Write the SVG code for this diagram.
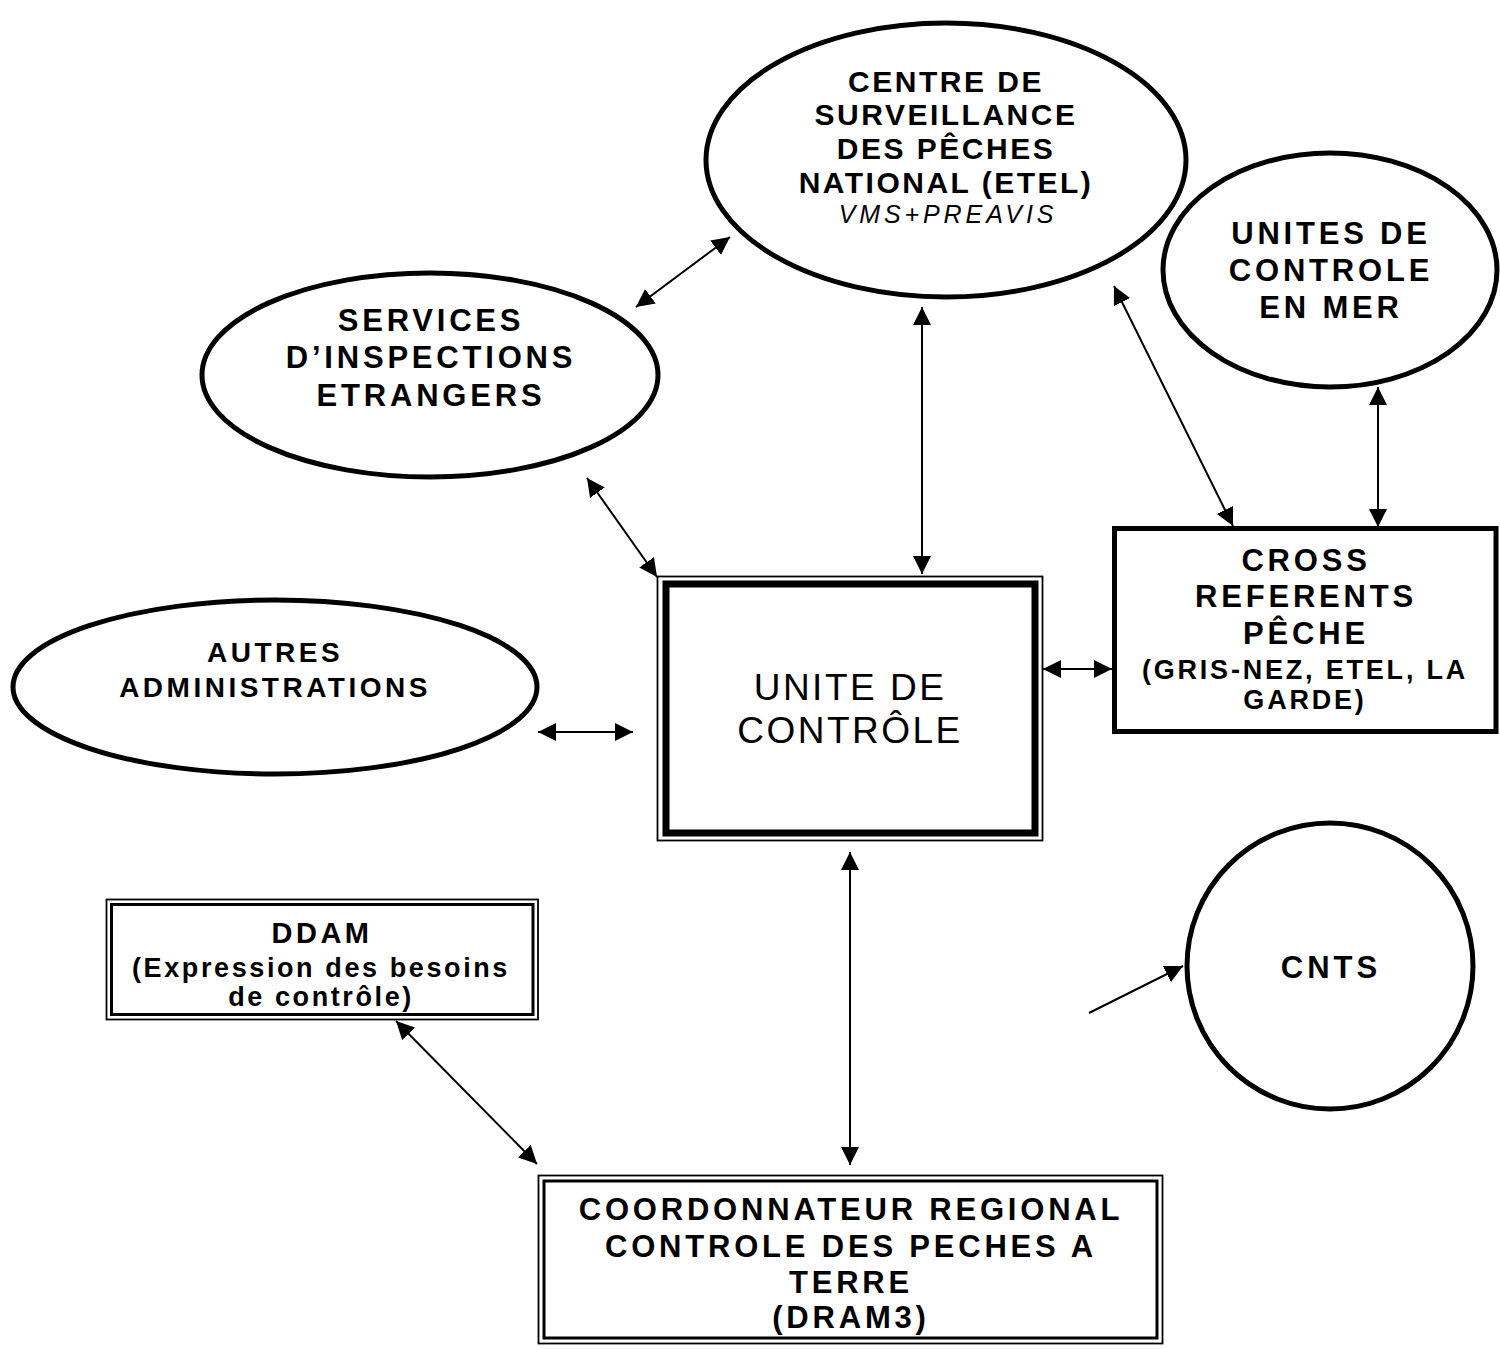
<svg xmlns="http://www.w3.org/2000/svg" width="1500" height="1349" viewBox="0 0 1500 1349">
<style>
text{font-family:"Liberation Sans",Arial,sans-serif;fill:#000;text-anchor:middle}
.b{font-weight:bold;font-size:31px;letter-spacing:3.8px}
.t{font-weight:bold;font-size:30px;letter-spacing:2.5px}
.s{font-weight:bold;font-size:27px;letter-spacing:2.8px}
.i{font-style:italic;font-size:25px;letter-spacing:3.9px}
.u{font-size:37px;letter-spacing:2.5px}
.shape{fill:#fff;stroke:#000;stroke-width:5}
.thin{fill:none;stroke:#000;stroke-width:1.8}
.thick{fill:none;stroke:#000;stroke-width:3}
.conn line{stroke:#000;stroke-width:2}
</style>
<defs>
<marker id="ah" viewBox="0 0 18 18" refX="18" refY="9" markerWidth="18" markerHeight="18" markerUnits="userSpaceOnUse" orient="auto-start-reverse">
<path d="M0,0 L18,9 L0,18 z" fill="#000"/>
</marker>
</defs>
<rect width="1500" height="1349" fill="#fff"/>

<g id="centre-surveillance">
<ellipse class="shape" cx="946" cy="160" rx="240" ry="137"/>
<text class="t" x="946" y="92">CENTRE DE</text>
<text class="t" x="946" y="125">SURVEILLANCE</text>
<text class="t" x="946" y="159">DES PÊCHES</text>
<text class="t" x="946" y="193">NATIONAL (ETEL)</text>
<text class="i" x="948" y="223">VMS+PREAVIS</text>
</g>

<g id="unites-mer">
<ellipse class="shape" cx="1330" cy="270" rx="167" ry="117"/>
<text class="b" x="1331" y="244">UNITES DE</text>
<text class="b" x="1331" y="281">CONTROLE</text>
<text class="b" x="1331" y="318">EN MER</text>
</g>

<g id="services-inspections">
<ellipse class="shape" cx="430" cy="375" rx="228" ry="102"/>
<text class="b" x="431" y="331">SERVICES</text>
<text class="b" x="431" y="368">D’INSPECTIONS</text>
<text class="b" x="431" y="406">ETRANGERS</text>
</g>

<g id="autres-administrations">
<ellipse class="shape" cx="275" cy="687" rx="262" ry="87"/>
<text class="b" x="275" y="662" style="font-size:28px;letter-spacing:3.5px">AUTRES</text>
<text class="b" x="275" y="697" style="font-size:28px;letter-spacing:3.5px">ADMINISTRATIONS</text>
</g>

<g id="unite-controle">
<rect class="thin" x="657.5" y="576.5" width="385" height="264" fill="#fff"/>
<rect x="666" y="584" width="369" height="249" fill="#fff" stroke="#000" stroke-width="7"/>
<text class="u" x="850" y="700">UNITE DE</text>
<text class="u" x="850" y="743">CONTRÔLE</text>
</g>

<g id="cross">
<rect class="shape" x="1114.5" y="528.5" width="381.5" height="203"/>
<text class="b" x="1306" y="571">CROSS</text>
<text class="b" x="1306" y="607">REFERENTS</text>
<text class="b" x="1306" y="644">PÊCHE</text>
<text class="s" x="1305" y="679">(GRIS-NEZ, ETEL, LA</text>
<text class="s" x="1305" y="709">GARDE)</text>
</g>

<g id="cnts">
<circle class="shape" cx="1330" cy="966" r="143"/>
<text class="b" x="1331" y="978" style="letter-spacing:4px">CNTS</text>
</g>

<g id="ddam">
<rect class="thin" x="106.5" y="899.5" width="431.5" height="120" fill="#fff"/>
<rect class="thick" x="111.5" y="904.5" width="421.5" height="110"/>
<text class="b" x="322" y="943" style="font-size:29px;letter-spacing:3.5px">DDAM</text>
<text class="s" x="321" y="977" style="letter-spacing:2.6px">(Expression des besoins</text>
<text class="s" x="321" y="1006" style="letter-spacing:2.6px">de contrôle)</text>
</g>

<g id="coordonnateur">
<rect class="thin" x="538.5" y="1175.5" width="624" height="168" fill="#fff"/>
<rect class="thick" x="544" y="1181" width="613" height="157"/>
<text class="b" x="851" y="1220">COORDONNATEUR REGIONAL</text>
<text class="b" x="851" y="1257">CONTROLE DES PECHES A</text>
<text class="b" x="851" y="1293">TERRE</text>
<text class="b" x="851" y="1328">(DRAM3)</text>
</g>

<g id="connectors" class="conn">
<line x1="636" y1="307" x2="730" y2="237" marker-start="url(#ah)" marker-end="url(#ah)"/>
<line x1="922" y1="307" x2="922" y2="574" marker-start="url(#ah)" marker-end="url(#ah)"/>
<line x1="1114" y1="286" x2="1233" y2="526" marker-start="url(#ah)" marker-end="url(#ah)"/>
<line x1="1378" y1="387" x2="1378" y2="527" marker-start="url(#ah)" marker-end="url(#ah)"/>
<line x1="587" y1="478" x2="657" y2="577" marker-start="url(#ah)" marker-end="url(#ah)"/>
<line x1="538" y1="732" x2="633" y2="732" marker-start="url(#ah)" marker-end="url(#ah)"/>
<line x1="1043" y1="669" x2="1112" y2="669" marker-start="url(#ah)" marker-end="url(#ah)"/>
<line x1="850" y1="852" x2="850" y2="1165" marker-start="url(#ah)" marker-end="url(#ah)"/>
<line x1="396" y1="1021" x2="537" y2="1164" marker-start="url(#ah)" marker-end="url(#ah)"/>
<line x1="1089" y1="1013" x2="1183" y2="966" marker-end="url(#ah)"/>
</g>
</svg>
